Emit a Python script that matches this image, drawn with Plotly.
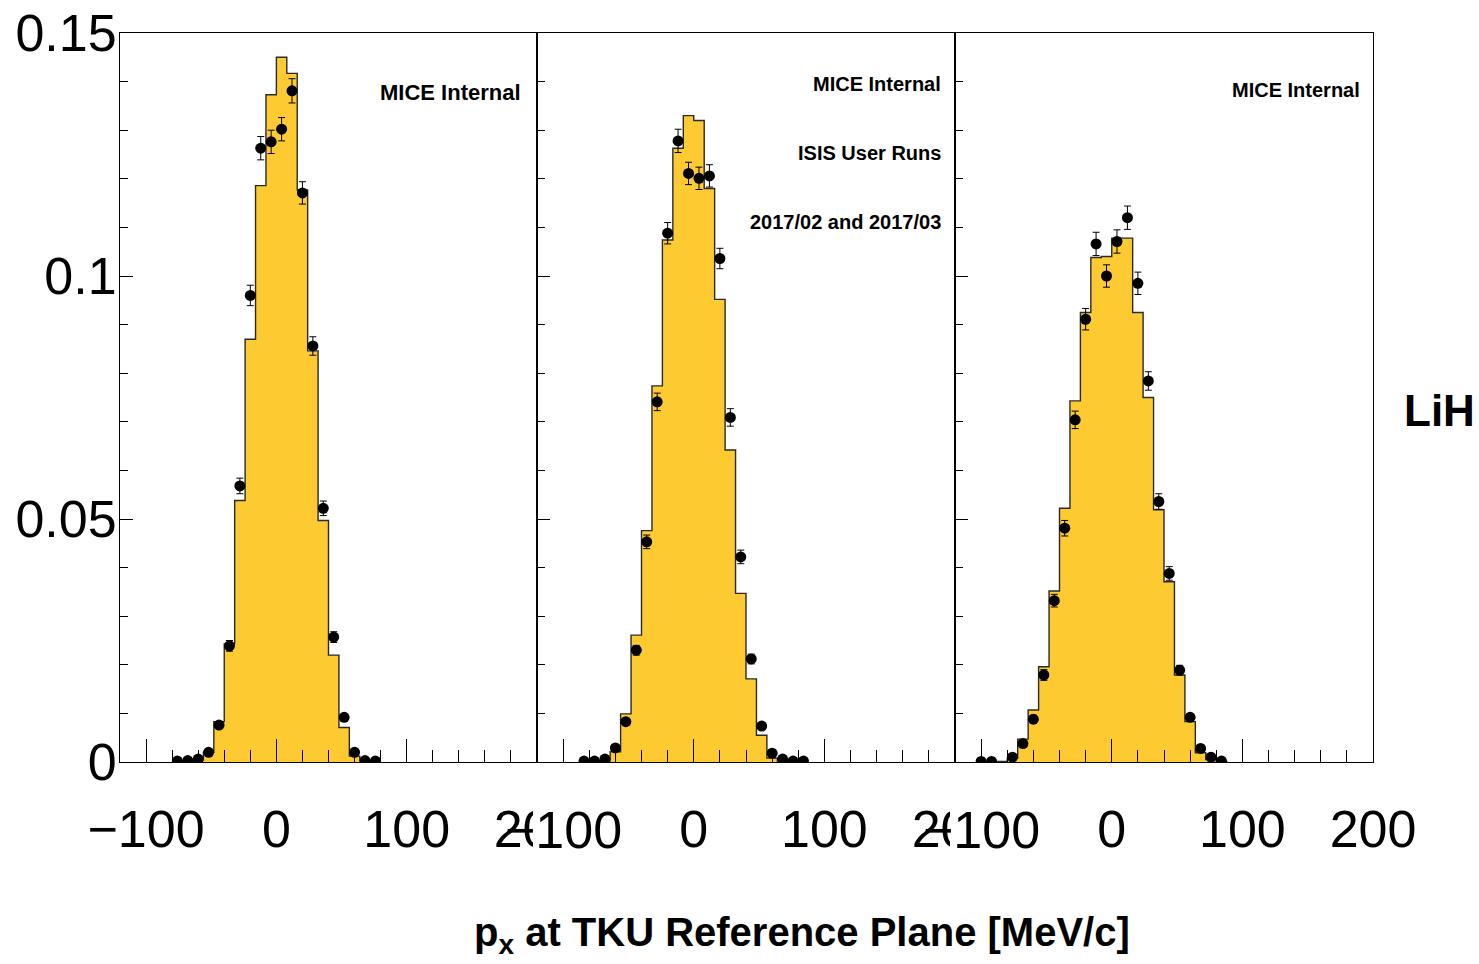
import plotly.graph_objects as go

W, H = 1479, 964
BIN_W = 8

# ---------------- data ----------------
# Panel 1 (left)
p1_hist_lo = [-72, -64, -56, -48, -40, -32, -24, -16, -8, 0, 8, 16, 24, 32, 40, 48, 56, 64]
p1_hist_val = [0.0002, 0.0004, 0.0020, 0.0083, 0.0243, 0.0538, 0.0870, 0.1186, 0.1373, 0.1450,
               0.1417, 0.1177, 0.0846, 0.0497, 0.0220, 0.0071, 0.0012, 0.0003]
p1_pt_x = [-76, -68, -60, -52, -44, -36, -28, -20, -12, -4, 4, 12, 20, 28, 36, 44, 52, 60, 68, 76]
p1_pt_y = [0.0002, 0.0003, 0.0006, 0.0020, 0.0076, 0.0239, 0.0568, 0.0960, 0.1263, 0.1276,
           0.1302, 0.1381, 0.1171, 0.0856, 0.0522, 0.0257, 0.0092, 0.0020, 0.0003, 0.0002]
p1_pt_err = [0.0001, 0.0001, 0.0002, 0.0003, 0.0006, 0.0011, 0.0016, 0.0021, 0.0024, 0.0024,
             0.0024, 0.0025, 0.0023, 0.0019, 0.0015, 0.0011, 0.0006, 0.0003, 0.0001, 0.0001]

# Panel 2 (middle)
p2_hist_lo = [-72, -64, -56, -48, -40, -32, -24, -16, -8, 0, 8, 16, 24, 32, 40, 48, 56, 64]
p2_hist_val = [0.0002, 0.0021, 0.0099, 0.0261, 0.0476, 0.0774, 0.1074, 0.1263, 0.1330, 0.1320,
               0.1180, 0.0952, 0.0642, 0.0347, 0.0171, 0.0055, 0.0008, 0.0002]
p2_pt_x = [-84, -76, -68, -60, -52, -44, -36, -28, -20, -12, -4, 4, 12, 20, 28, 36, 44, 52, 60, 68, 76, 84]
p2_pt_y = [0.0002, 0.0002, 0.0006, 0.0029, 0.0083, 0.0230, 0.0453, 0.0741, 0.1088, 0.1278, 0.1211,
           0.1201, 0.1206, 0.1036, 0.0709, 0.0422, 0.0212, 0.0074, 0.0018, 0.0006, 0.0002, 0.0002]
p2_pt_err = [0.0001, 0.0001, 0.0002, 0.0004, 0.0006, 0.0010, 0.0014, 0.0018, 0.0022, 0.0024, 0.0023,
             0.0023, 0.0023, 0.0021, 0.0018, 0.0014, 0.0010, 0.0006, 0.0003, 0.0002, 0.0001, 0.0001]

# Panel 3 (right)
p3_hist_lo = [-88, -80, -72, -64, -56, -48, -40, -32, -24, -16, -8, 0, 8, 16, 24, 32, 40, 48, 56, 64, 72, 80]
p3_hist_val = [0.0001, 0.0008, 0.0047, 0.0107, 0.0196, 0.0352, 0.0522, 0.0743, 0.0925, 0.1038, 0.1040,
               0.1078, 0.1078, 0.0925, 0.0750, 0.0519, 0.0371, 0.0179, 0.0083, 0.0019, 0.0005, 0.0001]
p3_pt_x = [-100, -92, -76, -68, -60, -52, -44, -36, -28, -20, -12, -4, 4, 12, 20, 28, 36, 44, 52, 60, 68, 76, 84]
p3_pt_y = [0.0001, 0.0001, 0.0010, 0.0038, 0.0088, 0.0179, 0.0332, 0.0481, 0.0704, 0.0911, 0.1066, 0.1000,
           0.1071, 0.1120, 0.0985, 0.0784, 0.0536, 0.0388, 0.0189, 0.0092, 0.0028, 0.0010, 0.0002]
p3_pt_err = [0.0001, 0.0001, 0.0003, 0.0005, 0.0008, 0.0011, 0.0013, 0.0016, 0.0018, 0.0022, 0.0024, 0.0023,
             0.0024, 0.0024, 0.0023, 0.0019, 0.0016, 0.0014, 0.0010, 0.0007, 0.0004, 0.0003, 0.0001]

x_tick_vals = [-100, 0, 100, 200]
x_tick_text_first = ["\u2212100", "0", "100", "200"]
x_tick_text_other = ["", "0", "100", "200"]
y_tick_vals = [0, 0.05, 0.1, 0.15]
y_tick_text = ["0", "0.05", "0.1", "0.15"]

panel_labels = [
    ["MICE Internal"],
    ["MICE Internal", "ISIS User Runs", "2017/02 and 2017/03"],
    ["MICE Internal"],
]
side_label = "LiH"
x_title = "p<sub>x</sub> at TKU Reference Plane [MeV/c]"

# ---------------- styling ----------------
FILL = "#FDCA32"
FONT = "Liberation Sans, Arial, Helvetica, sans-serif"


def px(x):
    return x / W


def py(y):
    return 1 - y / H


def step_xy(lo, val):
    xs = [lo[0]] + list(lo) + [lo[-1] + BIN_W]
    ys = [0] + list(val) + [0]
    return xs, ys


fig = go.Figure()
panels = [
    (p1_hist_lo, p1_hist_val, p1_pt_x, p1_pt_y, p1_pt_err),
    (p2_hist_lo, p2_hist_val, p2_pt_x, p2_pt_y, p2_pt_err),
    (p3_hist_lo, p3_hist_val, p3_pt_x, p3_pt_y, p3_pt_err),
]
for i, (hlo, hval, ptx, pty, pte) in enumerate(panels):
    xa = "x" if i == 0 else f"x{i+1}"
    ya = "y" if i == 0 else f"y{i+1}"
    sx, sy = step_xy(hlo, hval)
    fig.add_trace(go.Scatter(x=sx, y=sy, mode="lines", line=dict(shape="hv", color="#2a2a2a", width=1.4),
                             fill="tozeroy", fillcolor=FILL, xaxis=xa, yaxis=ya, showlegend=False,
                             hoverinfo="skip"))
    fig.add_trace(go.Scatter(x=ptx, y=pty, mode="markers",
                             marker=dict(color="black", size=11, symbol="circle"),
                             error_y=dict(type="data", array=pte, color="black", thickness=1, width=3.5),
                             xaxis=xa, yaxis=ya, showlegend=False))

domains = [(120, 537), (537, 955), (955, 1373)]
ydom = [py(762), py(33)]
layout = dict(width=W, height=H, margin=dict(l=0, r=0, t=0, b=0, autoexpand=False),
              paper_bgcolor="white", plot_bgcolor="rgba(0,0,0,0)", showlegend=False)
for i, (a, b) in enumerate(domains):
    xk = "xaxis" if i == 0 else f"xaxis{i+1}"
    yk = "yaxis" if i == 0 else f"yaxis{i+1}"
    layout[xk] = dict(domain=[px(a), px(b)], range=[-120, 200], anchor="y" if i == 0 else f"y{i+1}",
                      automargin=False,
                      showline=True, linecolor="black", linewidth=1, mirror=True,
                      ticks="inside", ticklen=23, tickwidth=1, tickcolor="black",
                      tickmode="array", tickvals=x_tick_vals,
                      ticktext=x_tick_text_first if i == 0 else x_tick_text_other,
                      minor=dict(ticks="inside", ticklen=12, tickwidth=1, tickcolor="black",
                                 tickmode="linear", tick0=0, dtick=20),
                      showgrid=False, zeroline=False, ticklabelstandoff=22,
                      tickfont=dict(family=FONT, size=52, color="black"))
    layout[yk] = dict(domain=ydom, range=[0, 0.15], anchor="x" if i == 0 else f"x{i+1}",
                      automargin=False,
                      showline=True, linecolor="black", linewidth=1, mirror=True,
                      ticks="inside", ticklen=13, tickwidth=1, tickcolor="black",
                      tickmode="array", tickvals=y_tick_vals, ticktext=y_tick_text,
                      showticklabels=(i == 0),
                      minor=dict(ticks="inside", ticklen=7.5, tickwidth=1, tickcolor="black",
                                 tickmode="linear", tick0=0, dtick=0.01),
                      showgrid=False, zeroline=False, ticklabelstandoff=-8,
                      tickfont=dict(family=FONT, size=52, color="black"))
fig.update_layout(**layout)

# white boxes emulating the pad clipping of the "200" labels
for cx in (533, 950):
    fig.add_shape(type="rect", xref="paper", yref="paper", x0=px(cx), x1=px(cx + 70),
                  y0=py(880), y1=py(785), fillcolor="white", line=dict(width=0), layer="above")

ann = []
# "−100" labels of panels 2 and 3 (drawn above the clipped "200")
for i in (1, 2):
    ann.append(dict(x=-100, xref=f"x{i+1}", y=py(830), yref="paper", text="\u2212100", showarrow=False,
                    xanchor="center", yanchor="middle", font=dict(family=FONT, size=52, color="black")))

label_pos = [
    (523, [92], 22),
    (943, [84, 153, 222], 20),
    (1362, [90], 20),
]
for (xr, ys, fs), texts in zip(label_pos, panel_labels):
    for yy, t in zip(ys, texts):
        ann.append(dict(x=px(xr), xref="paper", y=py(yy), yref="paper", text=f"<b>{t}</b>", showarrow=False,
                        xanchor="right", yanchor="middle", font=dict(family=FONT, size=fs, color="black")))

ann.append(dict(x=px(1439), xref="paper", y=py(410), yref="paper", text=f"<b>{side_label}</b>",
                showarrow=False, xanchor="center", yanchor="middle",
                font=dict(family=FONT, size=44, color="black")))
ann.append(dict(x=px(802), xref="paper", y=py(935), yref="paper", text=f"<b>{x_title}</b>",
                showarrow=False, xanchor="center", yanchor="middle",
                font=dict(family=FONT, size=40, color="black")))
fig.update_layout(annotations=ann)

fig.write_html("out.html", config={"displayModeBar": False},
               post_script="document.body.style.margin='0px';document.body.style.padding='0px';")
